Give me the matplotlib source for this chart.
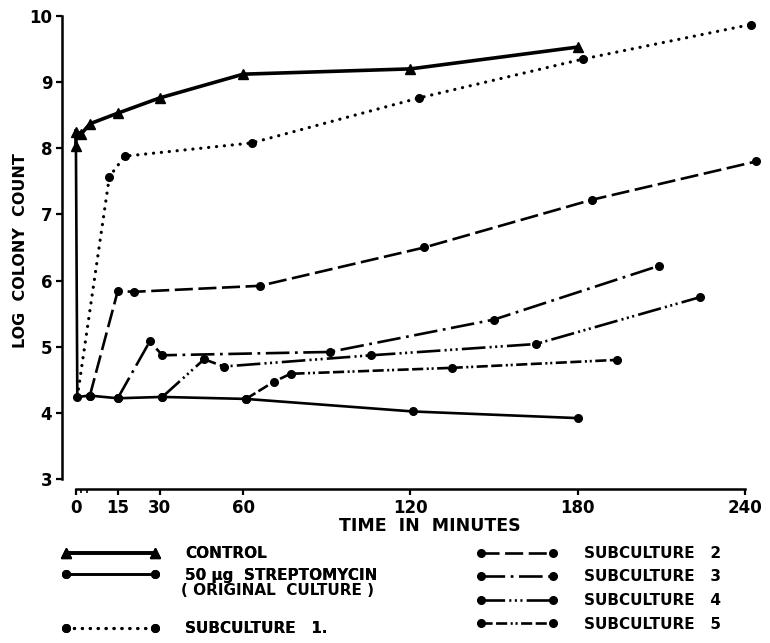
import matplotlib
matplotlib.use('Agg')
import matplotlib.pyplot as plt

plt.rcParams['font.family'] = ['DejaVu Sans']
plt.rcParams['font.weight'] = 'bold'
plt.rcParams['lines.scale_dashes'] = False

# time (min) / log colony count
control_t = [0, 0, 2, 5, 15, 30, 60, 120, 180]
control_y = [8.03, 8.25, 8.22, 8.37, 8.53, 8.76, 9.12, 9.20, 9.53]

strep_t = [0, 0.5, 5, 15, 31, 61, 121, 180]
strep_y = [8.05, 4.24, 4.26, 4.22, 4.24, 4.21, 4.02, 3.92]

sub1_t = [0.5, 12, 17.5, 63, 123, 182, 242]
sub1_y = [4.24, 7.57, 7.88, 8.08, 8.76, 9.35, 9.87]

sub2_t = [5, 15, 21, 66, 125, 185, 244]
sub2_y = [4.26, 5.84, 5.83, 5.92, 6.50, 7.22, 7.80]

sub3_t = [15, 26.5, 31, 91, 150, 209]
sub3_y = [4.22, 5.08, 4.87, 4.92, 5.41, 6.22]

sub4_t = [31, 46, 53, 106, 165, 224]
sub4_y = [4.24, 4.81, 4.70, 4.87, 5.04, 5.75]

sub5_t = [61, 71, 77, 135, 194]
sub5_y = [4.21, 4.47, 4.59, 4.68, 4.80]

xticks = [0, 15, 30, 60, 120, 180, 240]
yticks = [3, 4, 5, 6, 7, 8, 9, 10]

fig = plt.figure(figsize=(7.7, 6.43), dpi=100)
ax = fig.add_axes([0.0805, 0.2397, 0.9087, 0.7406])

lw = 1.9
ms = 5.5
l_ctrl, = ax.plot(control_t, control_y, color='k', lw=2.6, marker='^', ms=7.5,
                  solid_joinstyle='miter')
l_strep, = ax.plot(strep_t, strep_y, color='k', lw=lw, marker='o', ms=ms,
                   markevery=list(range(1, len(strep_t))))
l_s1, = ax.plot(sub1_t, sub1_y, color='k', lw=2.3, marker='o', ms=ms,
                dashes=(0.1, 5.6), dash_capstyle='round',
                markevery=list(range(1, len(sub1_t))))
l_s2, = ax.plot(sub2_t, sub2_y, color='k', lw=lw, marker='o', ms=ms,
                dashes=(13, 4))
l_s3, = ax.plot(sub3_t, sub3_y, color='k', lw=lw, marker='o', ms=ms,
                dashes=(17, 4, 2, 4))
l_s4, = ax.plot(sub4_t, sub4_y, color='k', lw=lw, marker='o', ms=ms,
                dashes=(17, 3, 1.5, 2.5, 1.5, 2.5, 1.5, 3))
l_s5, = ax.plot(sub5_t, sub5_y, color='k', lw=lw, marker='o', ms=ms,
                dashes=(8, 2.5, 8, 2.5, 1.5, 2, 1.5, 2.5))

ax.set_xlim(-5, 246)
ax.set_ylim(2.85, 10.05)
ax.spines['top'].set_visible(False)
ax.spines['right'].set_visible(False)
ax.spines['left'].set_bounds(3, 10)
ax.spines['bottom'].set_bounds(0, 240)
for s in ('left', 'bottom'):
    ax.spines[s].set_linewidth(1.8)

ax.set_xticks(xticks)
ax.set_xticks([2, 4], minor=True)
ax.set_yticks(yticks)
ax.tick_params(axis='both', which='major', direction='out', length=4, width=1.6,
               labelsize=12, pad=3)
ax.tick_params(axis='x', which='minor', direction='out', length=3, width=1.2)

ax.set_xlabel('TIME  IN  MINUTES', fontsize=12.5, fontweight='bold')
ax.xaxis.set_label_coords(0.526, -0.06)
ax.set_ylabel('LOG  COLONY  COUNT', fontsize=11.5, fontweight='bold')
ax.yaxis.set_label_coords(-0.048, 0.5)

leg_kw = dict(frameon=False, numpoints=2, fontsize=11, borderaxespad=0,
              borderpad=0, handletextpad=1.7)
leg1 = fig.legend([l_ctrl, l_strep], ['CONTROL', '50 μg  STREPTOMYCIN'],
                  loc='upper left', bbox_to_anchor=(0.080, 0.151),
                  handlelength=6.4, labelspacing=0.45, **leg_kw)
fig.add_artist(leg1)
fig.text(0.235, 0.081, '( ORIGINAL  CULTURE )', fontsize=11, fontweight='bold',
         va='center')
leg2 = fig.legend([l_s1], ['SUBCULTURE   1.'],
                  loc='upper left', bbox_to_anchor=(0.080, 0.034),
                  handlelength=6.4, **leg_kw)
fig.add_artist(leg2)
fig.legend([l_s2, l_s3, l_s4, l_s5],
           ['SUBCULTURE   2', 'SUBCULTURE   3', 'SUBCULTURE   4', 'SUBCULTURE   5'],
           loc='upper left', bbox_to_anchor=(0.619, 0.151),
           handlelength=5.3, labelspacing=0.56, **leg_kw)

fig.savefig('out.png', dpi=100)
